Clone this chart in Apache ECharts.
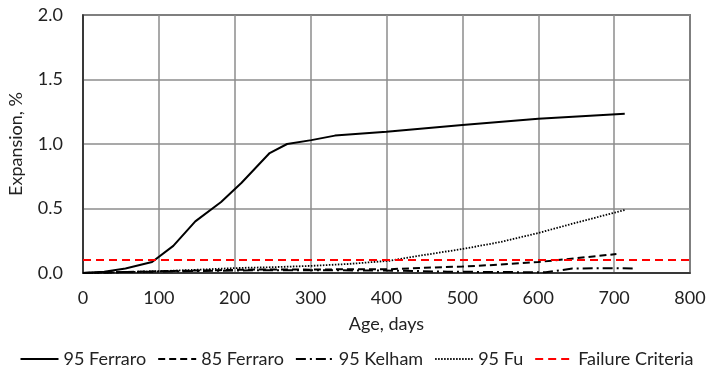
<!DOCTYPE html>
<html>
<head>
<meta charset="utf-8">
<script src="https://cdn.jsdelivr.net/npm/echarts@6/dist/echarts.min.js"></script>
<style>
  html, body { margin: 0; padding: 0; background: #fff; }
  #chart { width: 713px; height: 367px; }
</style>
</head>
<body>
<div id="chart"></div>
<script>
// Expansion readings, [age in days, expansion %]
const ferraro95 = [[0,0],[28,0.01],[56,0.035],[91,0.085],[119,0.21],[148,0.40],[182,0.55],[209,0.70],[246,0.93],[269,1.00],[301,1.03],[332,1.065],[400,1.095],[500,1.147],[600,1.195],[714,1.235]];
const ferraro85 = [[0,0],[28,0.004],[56,0.008],[90,0.012],[120,0.016],[180,0.022],[240,0.028],[300,0.026],[360,0.03],[406,0.03],[450,0.04],[500,0.05],[550,0.065],[600,0.085],[650,0.115],[703,0.147]];
const kelham95 = [[0,0],[28,0.004],[56,0.008],[90,0.01],[120,0.013],[180,0.018],[240,0.022],[300,0.022],[360,0.02],[420,0.018],[480,0.01],[540,0.008],[610,0.005],[645,0.035],[700,0.037],[729,0.035]];
const fu95 = [[0,0],[28,0.004],[56,0.007],[90,0.012],[120,0.018],[150,0.025],[180,0.033],[210,0.04],[250,0.045],[300,0.055],[350,0.07],[404,0.095],[450,0.14],[500,0.186],[550,0.24],[600,0.31],[650,0.39],[715,0.49]];
const failureCriteria = [[0,0.1],[800,0.1]];
const xTicks = [0,100,200,300,400,500,600,700,800];

const font = 'Lato';
const fs = 18;
const chart = echarts.init(document.getElementById('chart'));

function lineSeries(name, data, color, type, width) {
  return {
    name: name,
    type: 'line',
    data: data,
    symbol: 'none',
    showSymbol: false,
    animation: false,
    lineStyle: { color: color, width: width, type: type },
    itemStyle: { color: color }
  };
}

chart.setOption({
  animation: false,
  grid: {
    left: 83, right: 23, top: 15, bottom: 94,
    outerBoundsMode: 'none',
    containLabel: false,
    show: true, borderColor: '#222', borderWidth: 1.5
  },
  xAxis: {
    type: 'value',
    min: xTicks[0], max: xTicks[xTicks.length - 1], interval: 100,
    name: 'Age, days', nameLocation: 'middle', nameGap: 42,
    nameTextStyle: { fontFamily: font, fontSize: fs, color: '#222' },
    axisLine: { show: true, lineStyle: { color: '#222', width: 1.5 } },
    axisTick: { show: false },
    axisLabel: { fontFamily: font, fontSize: fs, color: '#222', margin: 16 },
    splitLine: { show: true, lineStyle: { color: '#8c8c8c', width: 1.5 } }
  },
  yAxis: {
    type: 'value',
    min: 0, max: 2, interval: 0.5,
    name: 'Expansion, %', nameLocation: 'middle', nameGap: 58, nameRotate: 90,
    nameTextStyle: { fontFamily: font, fontSize: fs, color: '#222' },
    axisLine: { show: true, lineStyle: { color: '#222', width: 1.5 } },
    axisTick: { show: false },
    axisLabel: { fontFamily: font, fontSize: fs, color: '#222', margin: 20,
      formatter: v => v.toFixed(1) },
    splitLine: { show: true, lineStyle: { color: '#8c8c8c', width: 1.5 } }
  },
  legend: {
    top: 345, left: 'center',
    itemWidth: 38, itemHeight: 10, itemGap: 11,
    itemStyle: { opacity: 0 },
    textStyle: { fontFamily: font, fontSize: fs, color: '#222' },
    data: ['95 Ferraro', '85 Ferraro', '95 Kelham', '95 Fu', 'Failure Criteria']
  },
  series: [
    lineSeries('95 Ferraro', ferraro95, '#000', 'solid', 2),
    lineSeries('85 Ferraro', ferraro85, '#000', [7, 4], 2),
    lineSeries('95 Kelham', kelham95, '#000', [10, 4, 2, 4], 2),
    lineSeries('95 Fu', fu95, '#000', [1.5, 1.5], 1.8),
    lineSeries('Failure Criteria', failureCriteria, '#ff0000', [8, 5], 2)
  ]
});
</script>
</body>
</html>
